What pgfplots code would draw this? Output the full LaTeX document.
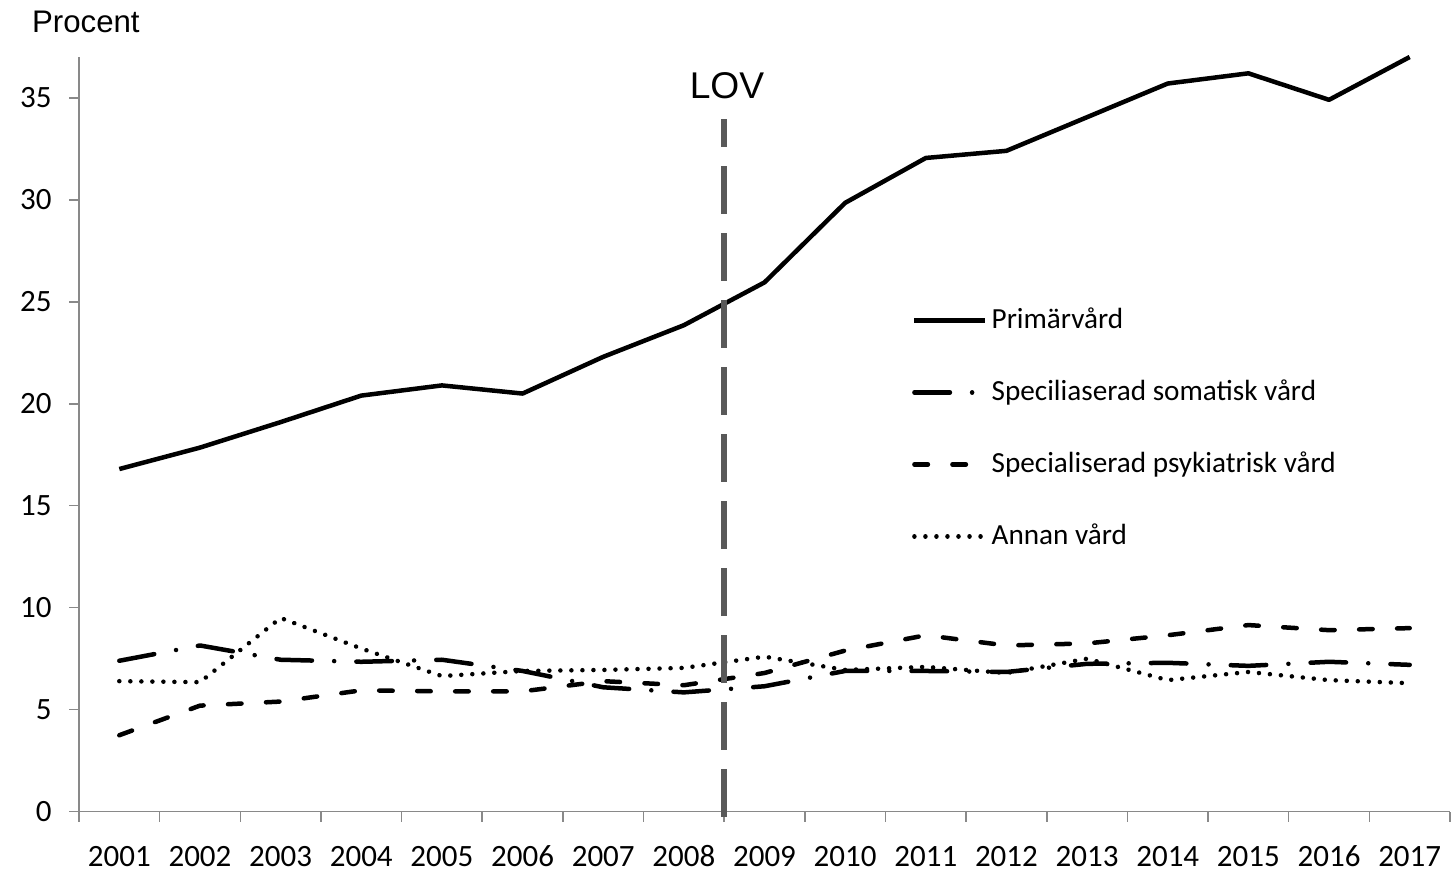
\documentclass[border=0pt]{standalone}
\usepackage{fontspec}
\setmainfont{Carlito}
\newfontfamily\arialf{Liberation Sans}
\usepackage{pgfplots}
\pgfplotsset{compat=1.18}
\definecolor{axgray}{HTML}{898989}
\definecolor{lovgray}{HTML}{595959}
\begin{document}
\begin{tikzpicture}
\begin{axis}[
  name=ax, at={(0,0)}, anchor=south west,
  scale only axis, width=685.5pt, height=377.35pt,
  xmin=-0.5, xmax=16.5, ymin=0, ymax=37,
  axis x line*=bottom, axis y line*=left,
  axis line style={axgray, line width=0.75pt},
  tick align=outside, major tick length=5pt,
  tick style={axgray, line width=0.75pt},
  xtick={-0.5,0.5,...,16.5}, xticklabels={},
  extra x ticks={0,1,...,16},
  extra x tick labels={2001,2002,2003,2004,2005,2006,2007,2008,2009,2010,2011,2012,2013,2014,2015,2016,2017},
  extra x tick style={tick style={draw=none}},
  ytick={0,5,...,35},
  /pgf/number format/assume math mode=true,
  tick label style={font=\fontsize{15.5}{18}\selectfont, black, inner sep=0pt},
  xticklabel style={text height=9.8pt, text depth=0pt, anchor=north},
  xticklabel shift=12.3pt,
  yticklabel shift=8.5pt,
  clip=false,
  legend style={draw=none, fill=none, at={(0.6074,0.6722)}, anchor=north west,
    inner sep=0pt, row sep=20.4pt, column sep=2pt,
    font=\fontsize{14.6}{17}\selectfont,
    nodes={inner sep=0pt, text height=12pt, text depth=3.6pt}},
  legend cell align=left,
  legend image code/.code={\draw[#1] (0pt,0pt) -- (35.5pt,0pt);},
]
\addplot[black, line width=2.25pt, line join=round] coordinates {
(0,16.8) (1,17.85) (2,19.1) (3,20.4) (4,20.9) (5,20.5) (6,22.3) (7,23.85) (8,25.95)
(9,29.85) (10,32.05) (11,32.4) (12,34.05) (13,35.7) (14,36.2) (15,34.9) (16,37.0)};
\addlegendentry{Primärvård}
\addplot[black, line width=2.25pt, line join=round, line cap=round, dash pattern=on 17.75pt off 11.1pt on 0.01pt off 11.1pt] coordinates {
(0,7.4) (1,8.15) (2,7.45) (3,7.35) (4,7.45) (5,6.9) (6,6.1) (7,5.85) (8,6.15)
(9,6.9) (10,6.9) (11,6.85) (12,7.25) (13,7.3) (14,7.15) (15,7.35) (16,7.2)};
\addlegendentry{Speciliaserad somatisk vård}
\addplot[black, line width=2.25pt, line join=round, line cap=round, dash pattern=on 6.75pt off 12.25pt] coordinates {
(0,3.75) (1,5.2) (2,5.4) (3,5.95) (4,5.9) (5,5.9) (6,6.4) (7,6.2) (8,6.8)
(9,7.9) (10,8.65) (11,8.15) (12,8.25) (13,8.65) (14,9.15) (15,8.9) (16,9.0)};
\addlegendentry{Specialiserad psykiatrisk vård}
\addplot[black, line width=2.25pt, line join=round, line cap=round, dash pattern=on 0.01pt off 5.5pt] coordinates {
(0,6.4) (1,6.35) (2,9.5) (3,8.0) (4,6.65) (5,6.9) (6,6.95) (7,7.05) (8,7.6)
(9,6.95) (10,7.1) (11,6.8) (12,7.5) (13,6.45) (14,6.85) (15,6.45) (16,6.3)};
\addlegendentry{Annan vård}
\addplot[lovgray, line width=2.8pt, dash pattern=on 24pt off 9.5pt, forget plot] coordinates {(7.5,-0.25) (7.5,33.95)};
\node[font=\arialf\fontsize{15.6}{18}\selectfont, anchor=base west, inner sep=0pt] at (axis cs:-1.086,38.2) {Procent};
\node[font=\arialf\fontsize{18.6}{22}\selectfont, anchor=base, inner sep=0pt] at (axis cs:7.535,34.97) {LOV};
\end{axis}
\pgfresetboundingbox
\path[use as bounding box] (-39.5pt,-28.65pt) rectangle (686pt,405.85pt);
\end{tikzpicture}
\end{document}
